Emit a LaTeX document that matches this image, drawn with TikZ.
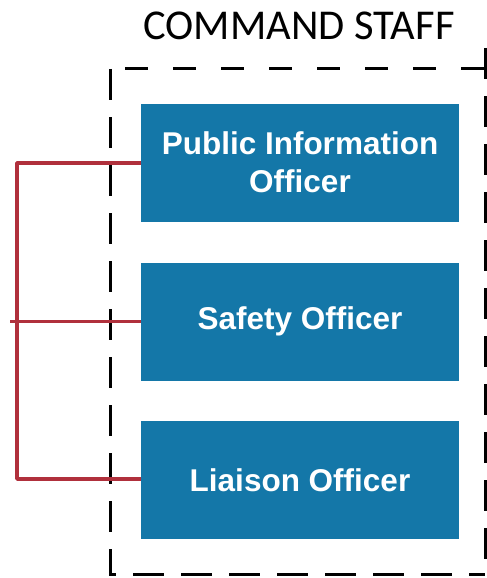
\documentclass[tikz,border=0pt]{standalone}
\usepackage{fontspec}
\setmainfont{Liberation Sans}
\newfontfamily\titlefont{Carlito}
\definecolor{boxblue}{HTML}{1477A8}
\definecolor{linkred}{HTML}{B0303C}
\begin{document}
\begin{tikzpicture}[x=1pt,y=-1pt,
  officer/.style={fill=boxblue, draw=none, minimum width=318pt, minimum height=118pt,
    inner sep=0pt, text=white, font=\fontsize{31.5}{38}\selectfont\bfseries, align=center},
  link/.style={draw=linkred, line width=3.5pt},
  frameside/.style={draw=black, line width=3pt, dash pattern=on 31pt off 17pt},
  frametop/.style={draw=black, line width=3pt, dash pattern=on 23pt off 25pt}]
\useasboundingbox (0,0) rectangle (487,578);
\node[font=\titlefont\fontsize{42.5}{48}\selectfont, anchor=base] (title) at (299,39.5) {COMMAND STAFF};
\coordinate (tl) at (110,69);
\coordinate (tr) at (485,69);
\coordinate (bl) at (110,574);
\coordinate (br) at (485,574);
\draw[frametop] ([xshift=15pt]tl) -- (tr);
\draw[frameside] (tl) -- (bl) -- (br);
\draw[frameside] ([yshift=21pt]tr) -- (br);
\node[officer] (pio) at (300,162.5) {Public Information\\Officer};
\node[officer] (so) at (300,321.5) {Safety Officer};
\node[officer] (lo) at (300,480) {Liaison Officer};
\coordinate (bus1) at (17,163);
\coordinate (bus2) at (17,321.5);
\coordinate (bus3) at (17,479);
\coordinate (stub) at (10,321.5);
\draw[link, line join=round] (pio.west |- bus1) -- (bus1) -- (bus3) -- (lo.west |- bus3);
\draw[link] (stub) -- (so.west);
\end{tikzpicture}
\end{document}
